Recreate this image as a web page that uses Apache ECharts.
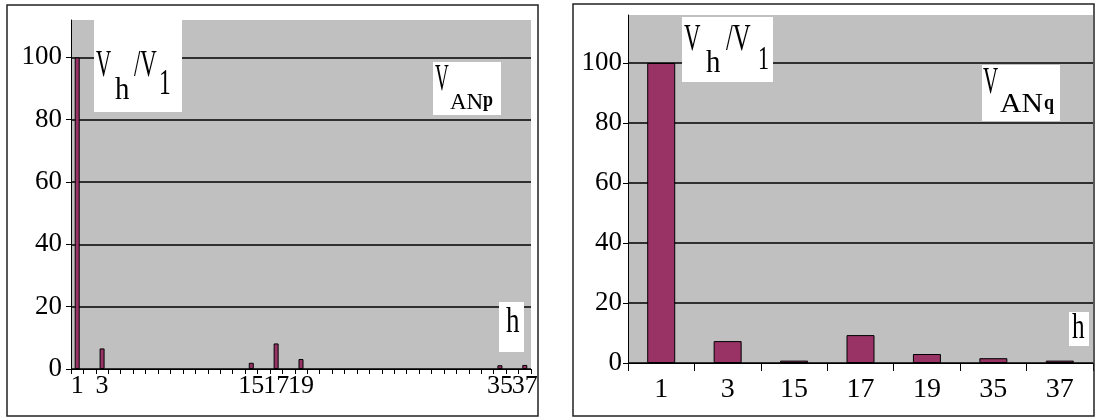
<!DOCTYPE html>
<html><head><meta charset="utf-8">
<script src="https://cdn.jsdelivr.net/npm/echarts@6/dist/echarts.min.js"></script>
<style>html,body{margin:0;padding:0;background:#fff}#c{width:1097px;height:419px}</style>
</head><body><div id="c"></div>
<script>
// Left panel (V_ANp): harmonic axis 1..37, bars only at listed orders
const ordersP = [1,2,3,4,5,6,7,8,9,10,11,12,13,14,15,16,17,18,19,20,21,22,23,24,25,26,27,28,29,30,31,32,33,34,35,36,37];
const harmonicsP = [1, 3, 15, 17, 19, 35, 37];
const valuesP = [100, 6.6, 2.0, 8.2, 3.2, 1.2, 1.3];
const labelsP = ['1', '3', '15', '17', '19', '35', '37'];
// Right panel (V_ANq)
const categoriesQ = ['1', '3', '15', '17', '19', '35', '37'];
const valuesQ = [100, 7.3, 0.8, 9.3, 3.0, 1.6, 0.8];
// Y tick labels
const yTickValues = [0, 20, 40, 60, 80, 100];

const SERIF = '"Liberation Serif","DejaVu Serif",serif';
const BAR = '#993366';
const GREY = '#c0c0c0';

const dataP = ordersP.map(o => {
  const i = harmonicsP.indexOf(o);
  return i >= 0 ? valuesP[i] : null;
});

function yAxis(gi, max, margin) {
  return {
    type: 'value', gridIndex: gi, min: 0, max: max, interval: 20,
    axisLine: { show: true, lineStyle: { color: '#000', width: 1 } },
    axisTick: { show: true, length: 5, lineStyle: { color: '#000' }, customValues: yTickValues },
    axisLabel: { color: '#000', fontFamily: SERIF, fontSize: 27, margin: margin, customValues: yTickValues },
    splitLine: { show: true, lineStyle: { color: '#000', width: 1.5 } }
  };
}

function txt(x, y, s, size, sx, bold) {
  return {
    type: 'text', x: x, y: y, scaleX: sx, z: 101,
    style: {
      text: s, font: (bold ? 'bold ' : '') + size + 'px ' + SERIF, fill: '#000',
      textAlign: 'left', textVerticalAlign: 'middle', align: 'left', verticalAlign: 'middle'
    }
  };
}
function box(x, y, w, h) {
  return { type: 'rect', z: 100, shape: { x: x, y: y, width: w, height: h }, style: { fill: '#fff' } };
}
function frame(x, y, w, h) {
  return { type: 'rect', z: 102, shape: { x: x, y: y, width: w, height: h }, style: { fill: 'none', stroke: '#222', lineWidth: 1.5 } };
}

const chart = echarts.init(document.getElementById('c'), null, { renderer: 'canvas' });
chart.setOption({
  backgroundColor: '#fff',
  animation: false,
  grid: [
    { left: 71, top: 20, right: 566, bottom: 50, show: true, backgroundColor: GREY, borderWidth: 0 },
    { left: 628, top: 15, right: 4, bottom: 56, show: true, backgroundColor: GREY, borderWidth: 0 }
  ],
  xAxis: [
    {
      type: 'category', gridIndex: 0, data: ordersP.map(String), boundaryGap: true,
      axisLine: { show: true, lineStyle: { color: '#000', width: 1 } },
      axisTick: { show: true, length: 5, interval: 0, lineStyle: { color: '#000' } },
      axisLabel: { interval: 0, margin: 4, color: '#000', fontFamily: SERIF, fontSize: 26,
        formatter: v => labelsP.includes(v) ? v : '' },
      splitLine: { show: false }
    },
    {
      type: 'category', gridIndex: 1, data: categoriesQ, boundaryGap: true,
      axisLine: { show: true, lineStyle: { color: '#000', width: 1 } },
      axisTick: { show: true, length: 8, interval: 0, lineStyle: { color: '#000' } },
      axisLabel: { interval: 0, margin: 13, color: '#000', fontFamily: SERIF, fontSize: 28 },
      splitLine: { show: false }
    }
  ],
  yAxis: [yAxis(0, 112, 9), yAxis(1, 116, 6)],
  series: [
    { type: 'bar', xAxisIndex: 0, yAxisIndex: 0, data: dataP, barWidth: 5,
      itemStyle: { color: BAR, borderColor: '#000', borderWidth: 1 } },
    { type: 'bar', xAxisIndex: 1, yAxisIndex: 1, data: valuesQ, barWidth: 28,
      itemStyle: { color: BAR, borderColor: '#000', borderWidth: 1 } }
  ],
  graphic: [
    // outer frames
    frame(7, 5, 531, 411),
    frame(573, 4, 521, 412),
    // left: Vh/V1
    box(94, 20, 88, 92),
    txt(96, 66, 'V', 38, 0.55),
    txt(115, 91, 'h', 32, 0.9),
    txt(134, 66, '/V', 38, 0.6),
    txt(159, 85, '1', 36, 0.65),
    // left: V_ANp
    box(433, 62, 68, 53),
    txt(435, 80, 'V', 38, 0.5),
    txt(450, 103, 'AN', 23, 1),
    txt(483, 101, 'p', 20, 0.9, true),
    // left: h
    box(499, 302, 25, 50),
    txt(506, 323, 'h', 36, 0.75),
    // right: Vh/V1
    box(682, 17, 91, 65),
    txt(684, 40, 'V', 38, 0.6),
    txt(706, 64, 'h', 32, 0.9),
    txt(726, 40, '/V', 38, 0.65),
    txt(758, 60, '1', 34, 0.65),
    // right: V_ANq
    box(982, 65, 78, 56),
    txt(983, 83, 'V', 38, 0.55),
    txt(1000, 105, 'AN', 27, 1.1),
    txt(1044, 104, 'q', 20, 0.9, true),
    // right: h
    box(1069, 312, 20, 34),
    txt(1072, 329, 'h', 36, 0.7)
  ]
});
</script>
</body></html>
